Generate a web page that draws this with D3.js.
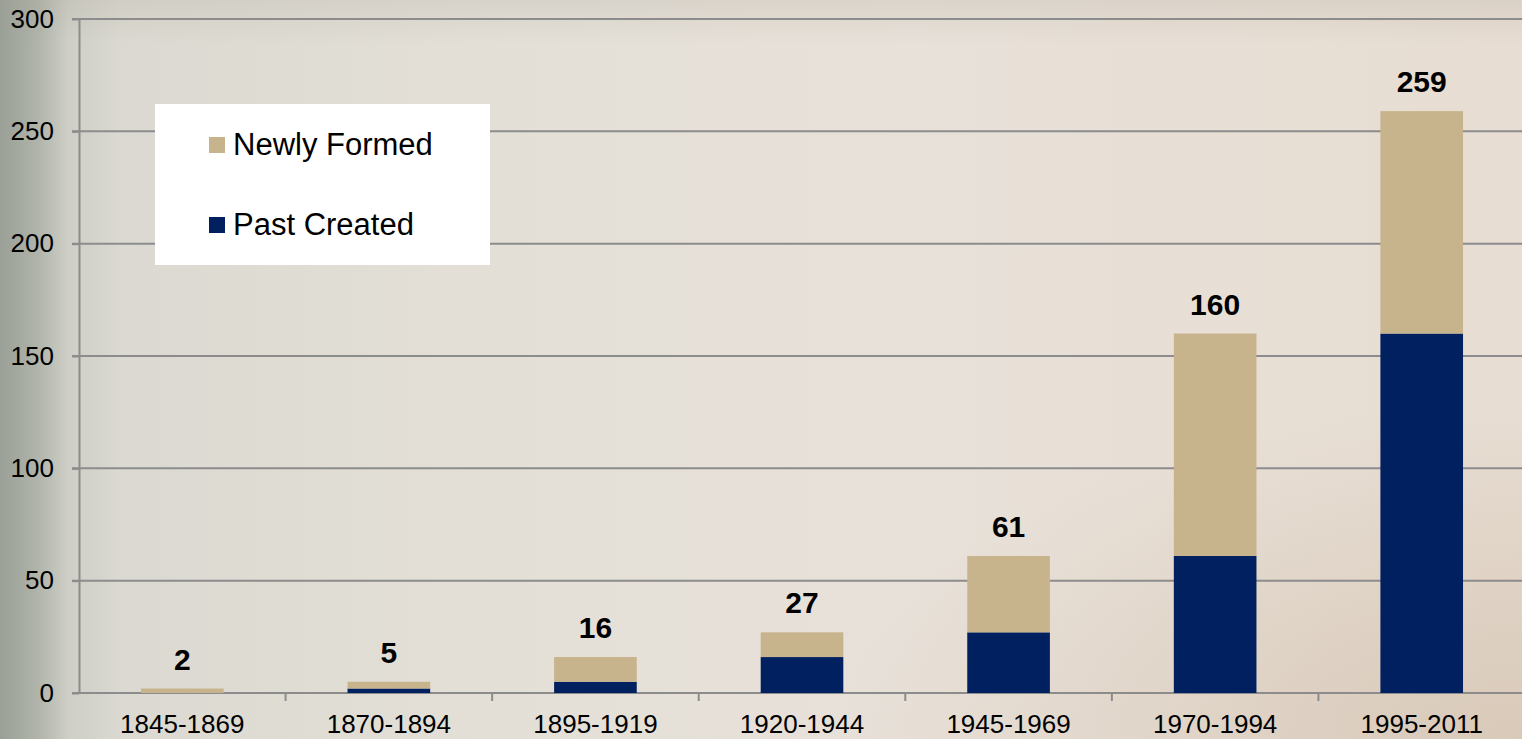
<!DOCTYPE html>
<html>
<head>
<meta charset="utf-8">
<script src="https://cdn.jsdelivr.net/npm/d3@7"></script>
<style>
  html, body { margin: 0; padding: 0; overflow: hidden; }
  body { width: 1522px; height: 739px; font-family: "Liberation Sans", Arial, sans-serif; }
</style>
</head>
<body>
<div id="chart"></div>
<script>
// Datos
const CATEGORIES = ["1845-1869","1870-1894","1895-1919","1920-1944","1945-1969","1970-1994","1995-2011"];
const PAST_CREATED = [0, 2, 5, 16, 27, 61, 160];
const NEWLY_FORMED = [2, 3, 11, 11, 34, 99, 99];
const TOTALS = [2, 5, 16, 27, 61, 160, 259];
const Y_TICKS = [0, 50, 100, 150, 200, 250, 300];
const SERIES = ["Past Created", "Newly Formed"];
const LEGEND_ORDER = ["Newly Formed", "Past Created"];

const color = d3.scaleOrdinal().domain(SERIES).range(["#00205f", "#c8b48c"]);

const W = 1522, H = 739;
const margin = { top: 19, left: 79, bottom: 46 };

const svg = d3.select("#chart").append("svg")
  .attr("width", W).attr("height", H);

// Fondo (aprox. de la foto)
const defs = svg.append("defs");
const bg = defs.append("linearGradient").attr("id","bg").attr("x1","0").attr("x2","1").attr("y1","0").attr("y2","0");
[["0%","#9aa097"],["2.5%","#b0b4aa"],["4.5%","#cfcfc7"],["8%","#dbd9d1"],["30%","#e3dfd7"],["60%","#e8e1d9"],["100%","#e7ddd2"]]
  .forEach(([o,c]) => bg.append("stop").attr("offset",o).attr("stop-color",c));
const rad = defs.append("radialGradient").attr("id","corner").attr("cx","1").attr("cy","1").attr("r","0.45");
rad.append("stop").attr("offset","0%").attr("stop-color","#cdb9a4").attr("stop-opacity",0.55);
rad.append("stop").attr("offset","100%").attr("stop-color","#cdb9a4").attr("stop-opacity",0);
const topShade = defs.append("linearGradient").attr("id","topshade").attr("x1","0").attr("x2","0").attr("y1","0").attr("y2","1");
topShade.append("stop").attr("offset","0%").attr("stop-color","#a09a8c").attr("stop-opacity",0.18);
topShade.append("stop").attr("offset","6%").attr("stop-color","#a09a8c").attr("stop-opacity",0);

svg.append("rect").attr("width",W).attr("height",H).attr("fill","url(#bg)");
svg.append("rect").attr("width",W).attr("height",H).attr("fill","url(#corner)");
svg.append("rect").attr("width",W).attr("height",H).attr("fill","url(#topshade)");

const yBottom = H - margin.bottom;

const x = d3.scaleBand().domain(CATEGORIES).range([margin.left, 1525]).paddingInner(0.6).paddingOuter(0.3);
const y = d3.scaleLinear().domain([0, 300]).range([yBottom, margin.top]);

const GRID = "#8c8c8c";
const FONT = "Liberation Sans, Arial, sans-serif";

// Rejilla
svg.append("g").selectAll("line").data(Y_TICKS.filter(d => d > 0)).join("line")
  .attr("x1", margin.left - 7).attr("x2", W)
  .attr("y1", d => y(d)).attr("y2", d => y(d))
  .attr("stroke", GRID).attr("stroke-width", 2);

// Eje Y
const yAxis = svg.append("g").attr("transform", `translate(${margin.left},0)`)
  .call(d3.axisLeft(y).tickValues(Y_TICKS).tickSize(7).tickSizeOuter(0).tickPadding(18));
yAxis.select(".domain").attr("stroke", GRID).attr("stroke-width", 2);
yAxis.selectAll(".tick line").attr("stroke", GRID).attr("stroke-width", 2);
yAxis.selectAll("text").attr("font-size", 26).attr("fill", "#000").attr("font-family", FONT);

// Eje X
const xAxis = svg.append("g").attr("transform", `translate(0,${yBottom})`)
  .call(d3.axisBottom(x).tickSize(0).tickSizeOuter(0));
xAxis.select(".domain").remove();
xAxis.selectAll("text").attr("font-size", 26).attr("fill", "#000").attr("dy", null).attr("y", 40)
  .attr("font-family", FONT);
svg.append("line").attr("x1", margin.left - 7).attr("x2", W).attr("y1", yBottom).attr("y2", yBottom)
  .attr("stroke", GRID).attr("stroke-width", 2);
const bounds = CATEGORIES.map(c => x(c) - x.step() * x.paddingOuter()).slice(1);
svg.append("g").selectAll("line").data(bounds).join("line")
  .attr("x1", d => d).attr("x2", d => d).attr("y1", yBottom).attr("y2", yBottom + 8)
  .attr("stroke", GRID).attr("stroke-width", 2);

// Barras apiladas
const rows = CATEGORIES.map((c, i) => ({ category: c, "Past Created": PAST_CREATED[i], "Newly Formed": NEWLY_FORMED[i] }));
const stack = d3.stack().keys(SERIES)(rows);

svg.append("g").selectAll("g").data(stack).join("g")
  .attr("fill", d => color(d.key))
  .selectAll("rect").data(d => d).join("rect")
  .attr("x", d => x(d.data.category))
  .attr("width", x.bandwidth())
  .attr("y", d => y(d[1]))
  .attr("height", d => Math.max(0, y(d[0]) - y(d[1])));

// Totales
svg.append("g").selectAll("text").data(CATEGORIES).join("text")
  .attr("x", d => x(d) + x.bandwidth() / 2)
  .attr("y", (d, i) => y(TOTALS[i]) - 19)
  .attr("text-anchor", "middle")
  .attr("font-size", 30).attr("font-weight", "bold").attr("fill", "#000")
  .attr("font-family", FONT)
  .text((d, i) => TOTALS[i]);

// Leyenda
const legend = svg.append("g").attr("transform", "translate(155,104)");
legend.append("rect").attr("width", 335).attr("height", 161).attr("fill", "#fff");
const items = legend.selectAll("g.item").data(LEGEND_ORDER).join("g").attr("class", "item")
  .attr("transform", (d, i) => `translate(54,${33 + i * 80})`);
items.append("rect").attr("width", 16).attr("height", 16).attr("fill", d => color(d));
items.append("text").attr("x", 24).attr("y", 18).attr("font-size", 31).attr("fill", "#000")
  .attr("font-family", FONT).text(d => d);
</script>
</body>
</html>
